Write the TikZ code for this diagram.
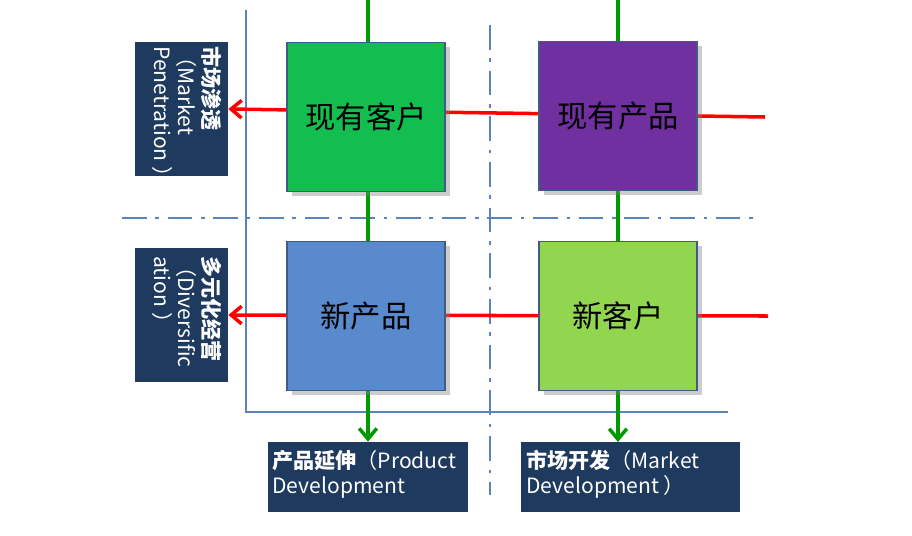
\documentclass[tikz,border=0pt]{standalone}
\usepackage{fontspec}
\setmainfont{Noto Sans CJK SC}
\usetikzlibrary{arrows.meta,shadows}
\definecolor{navy}{HTML}{1F3A5F}
\definecolor{axisblue}{HTML}{5B84BC}
\tikzset{
  quad/.style={draw=axisblue!70!black, line width=1pt, minimum width=3.16cm, minimum height=2.98cm, font=\LARGE, drop shadow={opacity=0.4}},
  tag/.style={fill=navy, text=white, font=\large, align=left, inner sep=3pt},
  redline/.style={draw=red, line width=2pt, -{Straight Barb[length=6pt,width=10pt]}},
  greenline/.style={draw=green!60!black, line width=2pt, -{Straight Barb[length=6pt,width=10pt]}},
  dashdot/.style={axisblue, line width=1.5pt, dash pattern=on 14pt off 5pt on 2pt off 5pt}
}
\begin{document}
\begin{tikzpicture}[x=0.02cm, y=-0.02cm]
\useasboundingbox (0,0) rectangle (912,535);
% axes
\draw[axisblue, line width=1.5pt] (246,10) -- (246,412) -- (728,412);
\draw[dashdot] (490,25) -- (490,495);
\draw[dashdot] (122,218) -- (760,218);
% connectors
\coordinate (g1) at (368,0);
\coordinate (g2) at (618,0);
\coordinate (r1) at (765,117);
\coordinate (r2) at (768,316);
\node[tag, minimum width=1.86cm, minimum height=2.68cm] (pen) at (181.5,109) {};
\node[tag, minimum width=1.86cm, minimum height=2.68cm] (div) at (181.5,315) {};
\node[tag, minimum width=4cm, minimum height=1.4cm] (prod) at (368,477) {};
\node[tag, minimum width=4.38cm, minimum height=1.4cm] (mark) at (630.5,477) {};
\draw[greenline] (g1) -- (prod.north);
\draw[greenline] (g2) -- (618,442);
\draw[redline] (r1) -- (pen.east);
\draw[redline] (r2) -- (div.east);
% quadrants
\node[quad, fill={rgb,255:red,18;green,190;blue,80}] (cur) at (366,117) {现有客户};
\node[quad, fill={rgb,255:red,112;green,48;blue,160}] (exist) at (618,116) {现有产品};
\node[quad, fill={rgb,255:red,88;green,138;blue,205}] (newp) at (366,316) {新产品};
\node[quad, fill={rgb,255:red,146;green,214;blue,80}] (newc) at (618,316) {新客户};
% label texts
\node[rotate=-90, text=white, font=\large, align=left, inner sep=0pt, anchor=north west] at (222,46) {\textbf{市场渗透}\\（Market\\Penetration ）};
\node[rotate=-90, text=white, font=\large, align=left, inner sep=0pt, anchor=north west] at (222,256) {\textbf{多元化经营}\\（Diversific\\ation ）};
\node[text=white, font=\large, align=left, anchor=north west, inner sep=0pt] at (272,450) {\textbf{产品延伸}（Product\\Development};
\node[text=white, font=\large, align=left, anchor=north west, inner sep=0pt] at (526,450) {\textbf{市场开发}（Market\\Development ）};
\end{tikzpicture}
\end{document}
